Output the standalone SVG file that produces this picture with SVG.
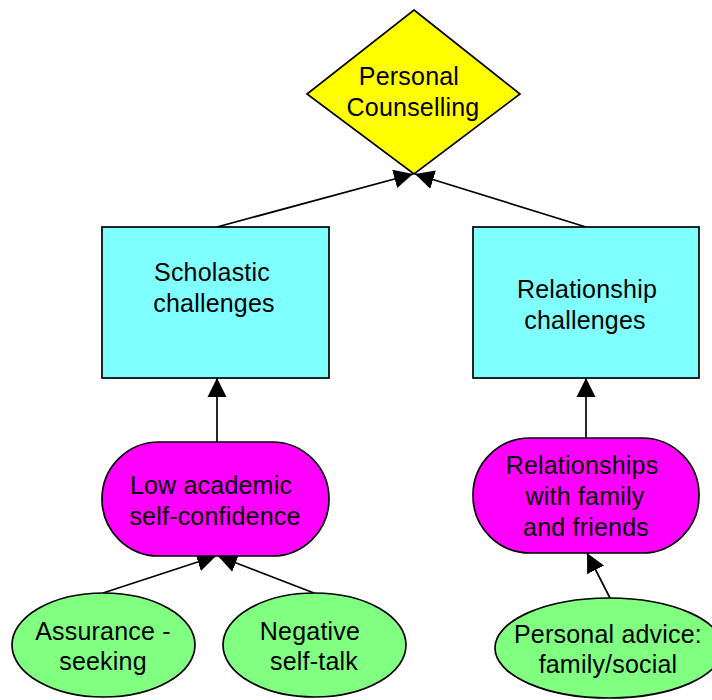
<svg xmlns="http://www.w3.org/2000/svg" width="712" height="700" viewBox="0 0 712 700">
<style>
.s{stroke:#000;stroke-width:1.7}
.t{font-family:"Liberation Sans",Arial,sans-serif;font-size:25px;fill:#000;text-anchor:middle;letter-spacing:0.2px}
.c{stroke:#000;stroke-width:1.7;fill:none;marker-end:url(#ah)}
</style>
<defs>
<marker id="ah" markerUnits="userSpaceOnUse" markerWidth="20" markerHeight="20" refX="18" refY="9" orient="auto" viewBox="0 0 19 18">
<path d="M0,0 L18,9 L0,18 Z" fill="#000"/>
</marker>
</defs>
<rect width="712" height="700" fill="#fff"/>
<g id="connectors">
<line class="c" x1="217" y1="227" x2="413" y2="174"/>
<line class="c" x1="586" y1="227" x2="415" y2="174"/>
<line class="c" x1="217" y1="442" x2="217" y2="378"/>
<line class="c" x1="586" y1="438" x2="586" y2="378"/>
<line class="c" x1="103" y1="593" x2="216" y2="556"/>
<line class="c" x1="314" y1="593" x2="218" y2="556"/>
<line class="c" x1="610" y1="598" x2="587" y2="553"/>
</g>
<g id="personal-counselling">
<polygon class="s" points="414,10 520,94 414,174 307,94" fill="#ffff00"/>
<text class="t" x="409" y="85">Personal</text>
<text class="t" x="413" y="116">Counselling</text>
</g>
<g id="scholastic">
<rect class="s" x="102" y="227" width="227" height="151" fill="#80ffff"/>
<text class="t" x="212" y="281">Scholastic</text>
<text class="t" x="214" y="312">challenges</text>
</g>
<g id="relationship">
<rect class="s" x="473" y="227" width="226" height="151" fill="#80ffff"/>
<text class="t" x="587" y="298">Relationship</text>
<text class="t" x="585" y="329">challenges</text>
</g>
<g id="low-academic">
<rect class="s" x="102" y="442" width="227" height="114" rx="57" ry="57" fill="#ff00ff"/>
<text class="t" x="211" y="494">Low academic</text>
<text class="t" x="215" y="525">self-confidence</text>
</g>
<g id="relationships-family">
<rect class="s" x="473" y="438" width="226" height="115" rx="57" ry="57" fill="#ff00ff"/>
<text class="t" x="582" y="474">Relationships</text>
<text class="t" x="585" y="505">with family</text>
<text class="t" x="586" y="536">and friends</text>
</g>
<g id="assurance">
<ellipse class="s" cx="103.5" cy="645" rx="91.5" ry="52" fill="#80ff80"/>
<text class="t" x="103" y="640">Assurance -</text>
<text class="t" x="103" y="670">seeking</text>
</g>
<g id="negative">
<ellipse class="s" cx="314.5" cy="645" rx="91.5" ry="52" fill="#80ff80"/>
<text class="t" x="310" y="640">Negative</text>
<text class="t" x="314" y="670">self-talk</text>
</g>
<g id="personal-advice">
<ellipse class="s" cx="609" cy="648" rx="114" ry="50" fill="#80ff80"/>
<text class="t" x="608" y="643">Personal advice:</text>
<text class="t" x="608" y="673">family/social</text>
</g>
</svg>
